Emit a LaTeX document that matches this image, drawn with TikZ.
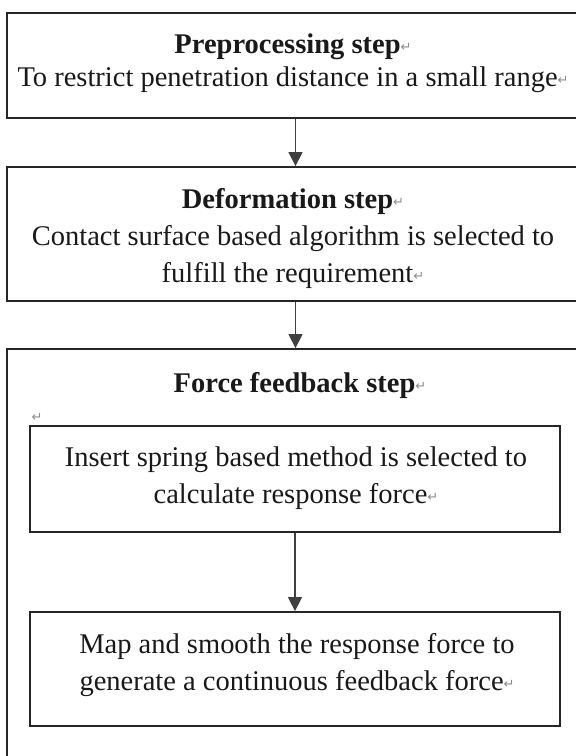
\documentclass[tikz,border=0pt]{standalone}
\usepackage{fontspec}
\setmainfont{Liberation Serif}
\newfontfamily\markfont{DejaVu Sans}
\usetikzlibrary{arrows.meta}
% paragraph mark shown after each paragraph
\newcommand{\pmark}{{\markfont\fontsize{13}{13}\selectfont\color{black!45}\raisebox{2pt}{↵}}}
\tikzset{
  frame/.style={draw=black!85, line width=1.8pt, inner sep=0pt, rectangle},
  txt/.style={align=center, inner sep=0pt, font=\fontsize{28.5}{37}\selectfont, text=black!90},
  flow/.style={draw=black!75, line width=1.4pt, -{Triangle[length=14pt,width=14pt]}}
}
\begin{document}
\begin{tikzpicture}[x=1pt,y=-1pt]
\useasboundingbox (0,0) rectangle (576,756);
% outer step boxes
\node[frame, minimum width=577pt, minimum height=105pt] (pre) at (295.5,65.5) {};
\node[frame, minimum width=577pt, minimum height=134pt] (def) at (295.5,234) {};
\node[frame, minimum width=577pt, minimum height=441pt] (ff) at (295.5,569.5) {};
% inner boxes of the force feedback step
\node[frame, minimum width=530pt, minimum height=106pt] (spr) at (295,479) {};
\node[frame, minimum width=530pt, minimum height=114pt] (map) at (295,669) {};
% texts
\node[txt, font=\fontsize{28.5}{33}\selectfont] (tpre) at (293,63)
  {\textbf{Preprocessing step}\pmark\\To restrict penetration distance in a small range\pmark};
\node[txt] (tdef) at (293,238)
  {\textbf{Deformation step}\pmark\\Contact surface based algorithm is selected to\\fulfill the requirement\pmark};
\node[txt] (tff) at (300,385) {\textbf{Force feedback step}\pmark};
\node[inner sep=0pt] (emp) at (37,418) {\pmark};
\node[txt] (tspr) at (296,478)
  {Insert spring based method is selected to\\calculate response force\pmark};
\node[txt] (tmap) at (297,665)
  {Map and smooth the response force to\\generate a continuous feedback force\pmark};
% connectors
\draw[flow] (pre.south) -- (def.north);
\draw[flow] (def.south) -- (ff.north);
\draw[flow] (spr.south) -- (map.north);
\end{tikzpicture}
\end{document}
